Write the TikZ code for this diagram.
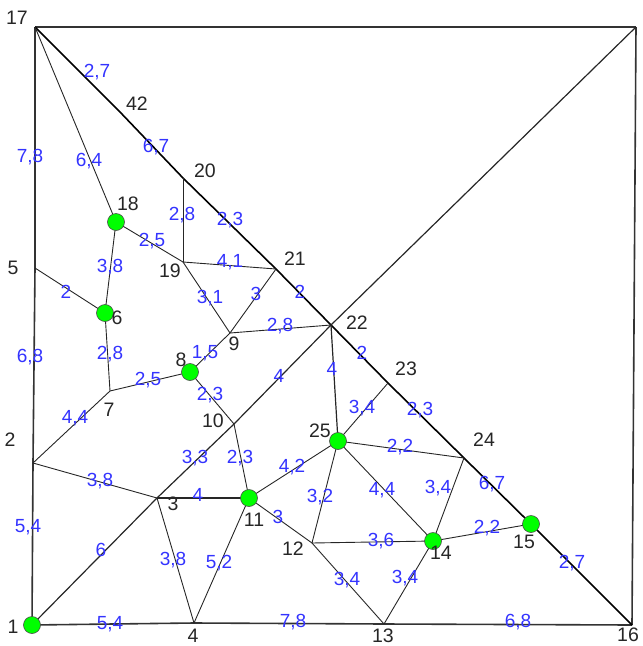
\documentclass[tikz,border=0pt]{standalone}
\usepackage{fontspec}
\setmainfont{Liberation Sans}
\begin{document}
\begin{tikzpicture}[x=1pt,y=-1pt,
  thin edge/.style={draw=black!85,line width=0.9pt},
  bound/.style={draw=black!80,line width=1.6pt},
  diag/.style={draw=black,line width=1.6pt},
  vlab/.style={text=black!85,font=\fontsize{19.5}{21}\selectfont,inner sep=0pt},
  elab/.style={text=blue!80!white,font=\fontsize{19}{21}\selectfont,inner sep=0pt},
  gnode/.style={circle,fill=green,draw=black!70,line width=0.6pt,minimum size=17pt,inner sep=0pt}]
\useasboundingbox (0,0) rectangle (643,646);
% vertices
\coordinate (v17) at (35,27);
\coordinate (vTR) at (636,27);
\coordinate (v16) at (632,625);
\coordinate (v1) at (32,625);
\coordinate (v5) at (35,268);
\coordinate (v2) at (33,463);
\coordinate (v4) at (194,623);
\coordinate (v13) at (384,624);
\coordinate (v42) at (120,112);
\coordinate (v20) at (183,178);
\coordinate (v21) at (276,269);
\coordinate (v22) at (331,325);
\coordinate (v23) at (388,383);
\coordinate (v24) at (464,458);
\coordinate (v15) at (531,524);
\coordinate (v18) at (116,222);
\coordinate (v6) at (105,313);
\coordinate (v7) at (110,391);
\coordinate (v8) at (190,372);
\coordinate (v19) at (183,262);
\coordinate (v9) at (230,333);
\coordinate (v10) at (234,424);
\coordinate (v3) at (157,498);
\coordinate (v11) at (249,498);
\coordinate (v25) at (338,441);
\coordinate (v12) at (312,543);
\coordinate (v14) at (433,541);
% boundary
\draw[bound] (v17) -- (vTR);
\draw[bound] (vTR) -- (v16);
\draw[bound] (v1) -- (v4) -- (v13) -- (v16);
\draw[bound] (v1) -- (v2) -- (v5) -- (v17);
\draw[diag] (v17) -- (v42) -- (v20) -- (v21) -- (v22) -- (v23) -- (v24) -- (v15) -- (v16);
\draw[thin edge,line width=1.2pt] (v1) -- (v3) -- (v10) -- (v22) -- (vTR);
% inner edges
\draw[thin edge] (v17) -- (v18);
\draw[thin edge] (v18) -- (v19);
\draw[thin edge] (v18) -- (v6);
\draw[thin edge] (v5) -- (v6);
\draw[thin edge] (v6) -- (v7);
\draw[thin edge] (v7) -- (v8);
\draw[thin edge] (v7) -- (v2);
\draw[thin edge] (v8) -- (v9);
\draw[thin edge] (v8) -- (v10);
\draw[thin edge] (v19) -- (v20);
\draw[thin edge] (v19) -- (v21);
\draw[thin edge] (v19) -- (v9);
\draw[thin edge] (v9) -- (v21);
\draw[thin edge] (v9) -- (v22);
\draw[thin edge] (v10) -- (v11);
\draw[thin edge] (v2) -- (v3);
\draw[thin edge,line width=1.2pt] (v3) -- (v11);
\draw[thin edge] (v3) -- (v4);
\draw[thin edge] (v4) -- (v11);
\draw[thin edge] (v11) -- (v25);
\draw[thin edge] (v11) -- (v12);
\draw[thin edge,line width=1.2pt] (v22) -- (v25);
\draw[thin edge] (v25) -- (v23);
\draw[thin edge] (v25) -- (v24);
\draw[thin edge] (v25) -- (v14);
\draw[thin edge] (v25) -- (v12);
\draw[thin edge] (v12) -- (v14);
\draw[thin edge] (v12) -- (v13);
\draw[thin edge] (v13) -- (v14);
\draw[thin edge] (v14) -- (v24);
\draw[thin edge] (v14) -- (v15);
% green nodes
\node[gnode] (g1) at (v1) {};
\node[gnode] (g18) at (v18) {};
\node[gnode] (g6) at (v6) {};
\node[gnode] (g8) at (v8) {};
\node[gnode] (g11) at (v11) {};
\node[gnode] (g25) at (v25) {};
\node[gnode] (g14) at (v14) {};
\node[gnode] (g15) at (v15) {};
% vertex labels
\node[vlab] (l17) at (17,18) {17};
\node[vlab] (l42) at (137,104) {42};
\node[vlab] (l20) at (205,171) {20};
\node[vlab] (l18) at (128,204) {18};
\node[vlab] (l5) at (13,268) {5};
\node[vlab] (l19) at (170,271) {19};
\node[vlab] (l21) at (295,259) {21};
\node[vlab] (l6) at (117,318) {6};
\node[vlab] (l22) at (357,323) {22};
\node[vlab] (l9) at (234,344) {9};
\node[vlab] (l8) at (181,360) {8};
\node[vlab] (l23) at (406,369) {23};
\node[vlab] (l7) at (109,410) {7};
\node[vlab] (l10) at (213,421) {10};
\node[vlab] (l2) at (10,440) {2};
\node[vlab] (l25) at (320,431) {25};
\node[vlab] (l24) at (484,440) {24};
\node[vlab] (l3) at (173,504) {3};
\node[vlab] (l11) at (254,520) {11};
\node[vlab] (l12) at (293,549) {12};
\node[vlab] (l14) at (441,553) {14};
\node[vlab] (l15) at (524,542) {15};
\node[vlab] (l1) at (13,627) {1};
\node[vlab] (l4) at (193,636) {4};
\node[vlab] (l13) at (383,636) {13};
\node[vlab] (l16) at (628,635) {16};
% edge labels
\node[elab] (e1) at (97,72) {2,7};
\node[elab] (e2) at (156,147) {6,7};
\node[elab] (e3) at (230,220) {2,3};
\node[elab] (e4) at (300,292) {2};
\node[elab] (e5) at (362,353) {2};
\node[elab] (e6) at (420,410) {2,3};
\node[elab] (e7) at (492,484) {6,7};
\node[elab] (e8) at (572,563) {2,7};
\node[elab] (e9) at (30,157) {7,8};
\node[elab] (e10) at (30,357) {6,8};
\node[elab] (e11) at (28,527) {5,4};
\node[elab] (e12) at (110,624) {5,4};
\node[elab] (e13) at (293,622) {7,8};
\node[elab] (e14) at (518,622) {6,8};
\node[elab] (e15) at (101,550) {6};
\node[elab] (e16) at (195,458) {3,3};
\node[elab] (e17) at (279,376) {4};
\node[elab] (e18) at (89,161) {6,4};
\node[elab] (e19) at (152,241) {2,5};
\node[elab] (e20) at (110,267) {3,8};
\node[elab] (e21) at (66,292) {2};
\node[elab] (e22) at (110,354) {2,8};
\node[elab] (e23) at (148,380) {2,5};
\node[elab] (e24) at (75,418) {4,4};
\node[elab] (e25) at (205,353) {1,5};
\node[elab] (e26) at (210,395) {2,3};
\node[elab] (e27) at (182,215) {2,8};
\node[elab] (e28) at (230,262) {4,1};
\node[elab] (e29) at (210,298) {3,1};
\node[elab] (e30) at (256,294) {3};
\node[elab] (e31) at (280,326) {2,8};
\node[elab] (e32) at (240,458) {2,3};
\node[elab] (e33) at (100,481) {3,8};
\node[elab] (e34) at (198,495) {4};
\node[elab] (e35) at (173,560) {3,8};
\node[elab] (e36) at (219,563) {5,2};
\node[elab] (e37) at (292,467) {4,2};
\node[elab] (e38) at (278,517) {3};
\node[elab] (e39) at (332,369) {4};
\node[elab] (e40) at (362,408) {3,4};
\node[elab] (e41) at (400,447) {2,2};
\node[elab] (e42) at (382,490) {4,4};
\node[elab] (e43) at (320,497) {3,2};
\node[elab] (e44) at (381,541) {3,6};
\node[elab] (e45) at (347,580) {3,4};
\node[elab] (e46) at (405,578) {3,4};
\node[elab] (e47) at (438,488) {3,4};
\node[elab] (e48) at (487,528) {2,2};
\end{tikzpicture}
\end{document}
